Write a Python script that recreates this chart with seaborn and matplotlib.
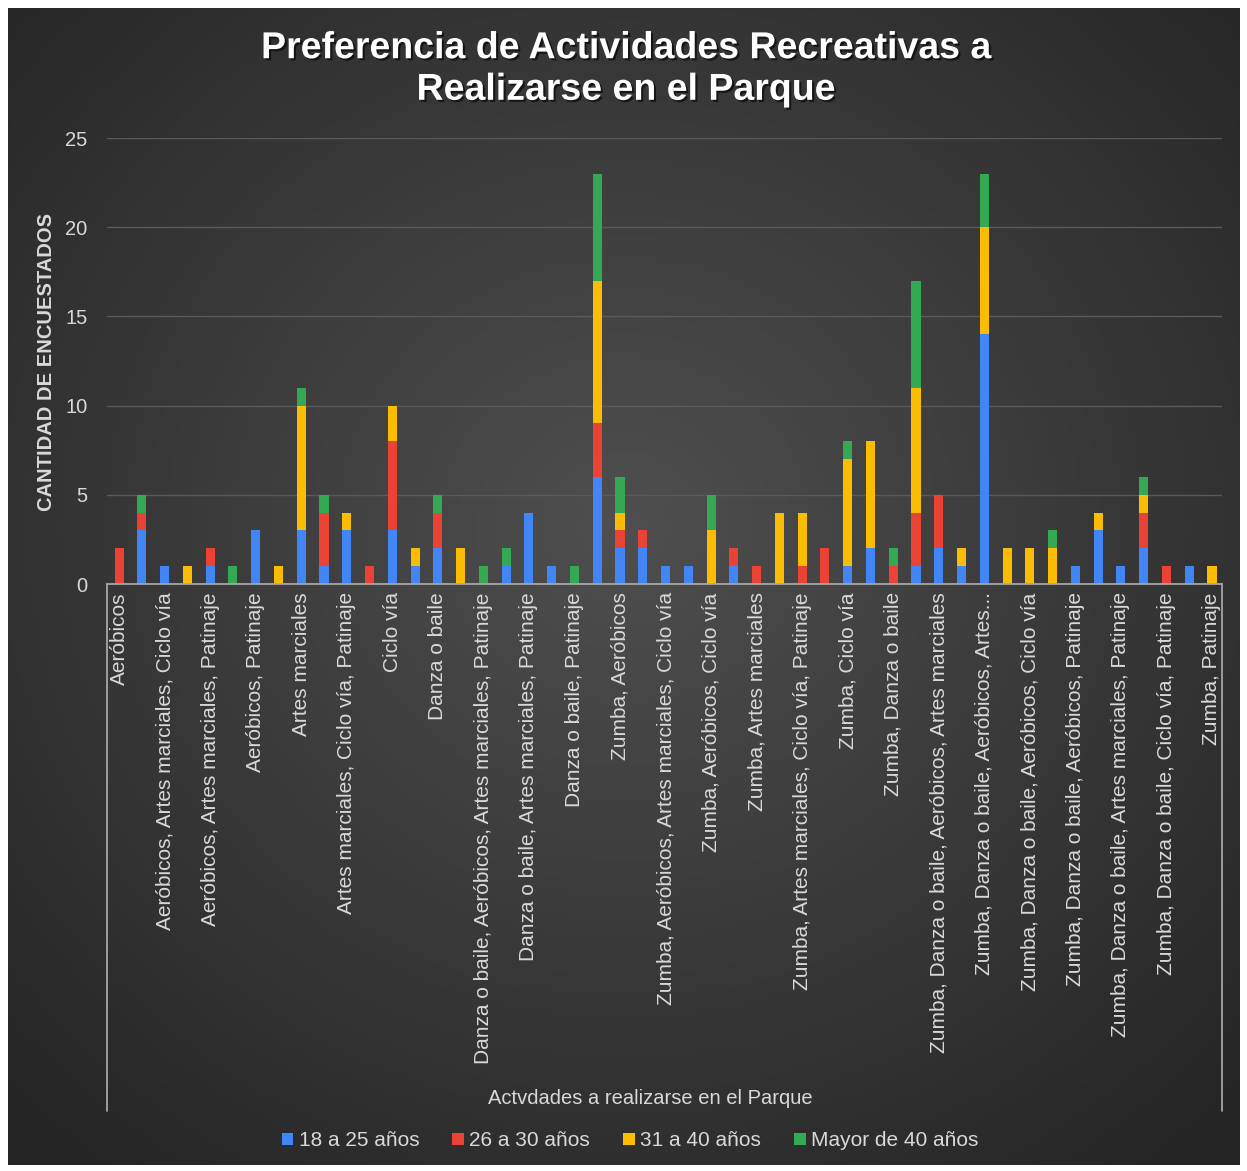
import numpy as np
import pandas as pd
import matplotlib
matplotlib.use("Agg")
import matplotlib.pyplot as plt
import matplotlib.patheffects as pe
from matplotlib.patches import Patch
import seaborn as sns

# Datos (una barra por combinacion de actividades)
edad_18_25 = [0, 3, 1, 0, 1, 0, 3, 0, 3, 1, 3, 0, 3, 1, 2, 0, 0, 1, 4, 1, 0, 6, 2, 2, 1,
              1, 0, 1, 0, 0, 0, 0, 1, 2, 0, 1, 2, 1, 14, 0, 0, 0, 1, 3, 1, 2, 0, 1, 0]
edad_26_30 = [2, 1, 0, 0, 1, 0, 0, 0, 0, 3, 0, 1, 5, 0, 2, 0, 0, 0, 0, 0, 0, 3, 1, 1, 0,
              0, 0, 1, 1, 0, 1, 2, 0, 0, 1, 3, 3, 0, 0, 0, 0, 0, 0, 0, 0, 2, 1, 0, 0]
edad_31_40 = [0, 0, 0, 1, 0, 0, 0, 1, 7, 0, 1, 0, 2, 1, 0, 2, 0, 0, 0, 0, 0, 8, 1, 0, 0,
              0, 3, 0, 0, 4, 3, 0, 6, 6, 0, 7, 0, 1, 6, 2, 2, 2, 0, 1, 0, 1, 0, 0, 1]
mayor_40 = [0, 1, 0, 0, 0, 1, 0, 0, 1, 1, 0, 0, 0, 0, 1, 0, 1, 1, 0, 0, 1, 6, 2, 0, 0,
            0, 2, 0, 0, 0, 0, 0, 1, 0, 1, 6, 0, 0, 3, 0, 0, 1, 0, 0, 0, 1, 0, 0, 0]

series = ["18 a 25 años", "26 a 30 años", "31 a 40 años", "Mayor de 40 años"]
colores = ["#4285f4", "#ea4335", "#fbbc04", "#34a853"]

# Etiquetas visibles (Excel muestra una de cada dos categorias)
etiquetas = [
    "Aeróbicos",
    "Aeróbicos, Artes marciales, Ciclo vía",
    "Aeróbicos, Artes marciales, Patinaje",
    "Aeróbicos, Patinaje",
    "Artes marciales",
    "Artes marciales, Ciclo vía, Patinaje",
    "Ciclo vía",
    "Danza o baile",
    "Danza o baile, Aeróbicos, Artes marciales, Patinaje",
    "Danza o baile, Artes marciales, Patinaje",
    "Danza o baile, Patinaje",
    "Zumba, Aeróbicos",
    "Zumba, Aeróbicos, Artes marciales, Ciclo vía",
    "Zumba, Aeróbicos, Ciclo vía",
    "Zumba, Artes marciales",
    "Zumba, Artes marciales, Ciclo vía, Patinaje",
    "Zumba, Ciclo vía",
    "Zumba, Danza o baile",
    "Zumba, Danza o baile, Aeróbicos, Artes marciales",
    "Zumba, Danza o baile, Aeróbicos, Artes...",
    "Zumba, Danza o baile, Aeróbicos, Ciclo vía",
    "Zumba, Danza o baile, Aeróbicos, Patinaje",
    "Zumba, Danza o baile, Artes marciales, Patinaje",
    "Zumba, Danza o baile, Ciclo vía, Patinaje",
    "Zumba, Patinaje",
]

df = pd.DataFrame({
    "barra": np.arange(len(edad_18_25)),
    series[0]: edad_18_25,
    series[1]: edad_26_30,
    series[2]: edad_31_40,
    series[3]: mayor_40,
})
acumulado = df[series].cumsum(axis=1)

sns.set_theme(style="dark")
plt.rcParams["font.family"] = ["Liberation Sans", "DejaVu Sans"]
texto = "#d9d9d9"

W, H = 1247, 1171
fig = plt.figure(figsize=(W / 100, H / 100), dpi=100, facecolor="white")

# Fondo oscuro con degradado radial
bg = fig.add_axes([8 / W, 6 / H, 1 - 15 / W, 1 - 14 / H])
yy, xx = np.mgrid[-1:1:300j, -1:1:300j]
r = np.sqrt(xx ** 2 + (yy + 0.1) ** 2)
bg.imshow(np.clip(r, 0, 1.4), cmap=sns.dark_palette("#4f4f4f", reverse=True, as_cmap=True),
          vmin=0, vmax=1.4, aspect="auto", extent=[0, 1, 0, 1])
bg.axis("off")
bg.set_zorder(0)

ax = fig.add_axes([107 / W, (H - 584) / H, (1222 - 107) / W, (584 - 138) / H])
ax.set_zorder(1)
ax.set_facecolor("none")

# Barras apiladas: se dibujan los acumulados de arriba hacia abajo
for nombre, color in reversed(list(zip(series, colores))):
    sns.barplot(x=df["barra"], y=acumulado[nombre], color=color, width=0.4,
                saturation=1, linewidth=0, ax=ax, zorder=3)

ax.set_ylim(0, 25)
ax.set_xlim(-0.53, len(df) - 0.56)
ax.set_yticks(range(0, 26, 5))
ax.yaxis.grid(True, color="#5a5a5a", linewidth=1)
ax.xaxis.grid(False)
ax.set_axisbelow(True)
for s in ["top", "right", "left"]:
    ax.spines[s].set_visible(False)
ax.spines["bottom"].set_color("#a6a6a6")
ax.spines["bottom"].set_linewidth(1.3)
ax.spines["bottom"].set_zorder(4)
ax.tick_params(axis="y", length=0, pad=14, labelsize=14.5, labelcolor=texto)
ax.set_xticks(range(0, len(df), 2))
ax.set_xticklabels(etiquetas, rotation=90, va="top", ha="center", fontsize=15, color=texto)
ax.tick_params(axis="x", length=0, pad=6)
ax.set_xlabel("")
ax.set_ylabel("")

# Caja del eje de categorias
for xpos in [107, 1222]:
    fig.add_artist(plt.Line2D([xpos / W, xpos / W], [(H - 584) / H, (H - 1111) / H],
                              color="#a6a6a6", linewidth=1.3, zorder=5))

fig.text(626 / W, 1 - 69 / H, "Preferencia de Actividades Recreativas a\nRealizarse en el Parque",
         ha="center", va="center", fontsize=27, fontweight="bold", color="white",
         linespacing=1.2,
         path_effects=[pe.withSimplePatchShadow(offset=(1.5, -1.5), shadow_rgbFace="black", alpha=0.6)])
fig.text(47 / W, 1 - 362 / H, "CANTIDAD DE ENCUESTADOS", rotation=90, ha="center", va="center",
         fontsize=14.5, fontweight="bold", color=texto)
fig.text(650 / W, 1 - 1099 / H, "Actvdades a realizarse en el Parque", ha="center", va="center",
         fontsize=14.5, color=texto)

handles = [Patch(facecolor=c, edgecolor="none", label=n) for n, c in zip(series, colores)]
fig.legend(handles=handles, loc="center", bbox_to_anchor=(630 / W, 1 - 1141 / H), ncol=4,
           frameon=False, fontsize=15, labelcolor=texto, handlelength=0.55, handleheight=0.55,
           handletextpad=0.25, columnspacing=1.6)

fig.savefig("out.png", dpi=100, facecolor="white")
